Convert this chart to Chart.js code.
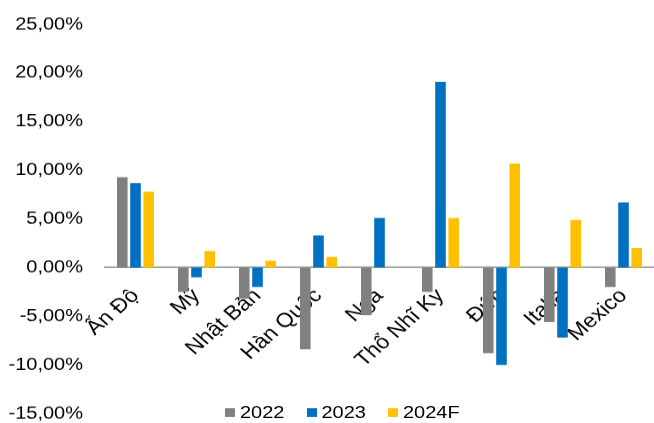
<!DOCTYPE html>
<html>
<head>
<meta charset="utf-8">
<script src="https://cdn.jsdelivr.net/npm/chart.js@4/dist/chart.umd.min.js"></script>
<style>
  html, body { margin: 0; background: #fff; overflow: hidden; }
  /* the chart is drawn 486px tall and pressed down to 423px, which gives the flat text */
  #wrap {
    position: relative; width: 654px; height: 486px;
    transform: scale(1, 0.8704); transform-origin: 0 0;
  }
  #legend {
    position: absolute; left: 225px; top: 462px; height: 23px;
    display: flex; align-items: center;
    font: 20px "Liberation Sans", Arial, sans-serif; color: #000;
  }
  .item { display: flex; align-items: center; margin-right: 22px; }
  .box { width: 10px; height: 10px; margin-right: 5px; }
</style>
</head>
<body>
<div id="wrap">
  <canvas id="chart" width="654" height="486"></canvas>
  <div id="legend"></div>
</div>
<script>
const countries = ["Ấn Độ", "Mỹ", "Nhật Bản", "Hàn Quốc", "Nga", "Thổ Nhĩ Kỳ", "Đức", "Italia", "Mexico"];
const growth2022 = [9.3, -2.5, -3.2, -8.4, -4.9, -2.5, -8.8, -5.6, -2.0];
const growth2023 = [8.7, -1.0, -2.0, 3.3, 5.1, 19.1, -10.0, -7.2, 6.7];
const growth2024F = [7.8, 1.7, 0.7, 1.1, 0, 5.1, 10.7, 4.9, 2.0];
const yTicks = [-15, -10, -5, 0, 5, 10, 15, 20, 25];

const fontFamily = '"Liberation Sans", Arial, sans-serif';

function pct(v) {
  return v.toFixed(2).replace('.', ',') + '%';
}

const chart = new Chart(document.getElementById('chart'), {
  type: 'bar',
  data: {
    labels: countries,
    datasets: [
      { label: '2022', data: growth2022, backgroundColor: '#808080' },
      { label: '2023', data: growth2023, backgroundColor: '#0070C0' },
      { label: '2024F', data: growth2024F, backgroundColor: '#FFC000' }
    ]
  },
  options: {
    responsive: false,
    animation: false,
    categoryPercentage: 0.65,
    barPercentage: 0.8,
    layout: { padding: { top: 28, bottom: 11, left: 0, right: -2 } },
    plugins: {
      legend: { display: false },
      tooltip: { enabled: false }
    },
    scales: {
      x: {
        position: { y: 0 },
        // the category axis sits on the zero line, so it takes no room of its own
        afterFit(scale) {
          scale.height = 0;
          scale.paddingLeft = 0;
          scale.paddingRight = 0;
        },
        grid: { display: false, drawTicks: false },
        border: { display: true, color: '#a6a6a6', width: 2 },
        ticks: {
          font: { family: fontFamily, size: 23 }, color: '#000', padding: 19,
          minRotation: 45, maxRotation: 45, autoSkip: false
        }
      },
      y: {
        min: yTicks[0],
        max: yTicks[yTicks.length - 1],
        afterFit(scale) {
          scale.width = 105;
          scale.paddingTop = 0;
          scale.paddingBottom = 0;
        },
        afterBuildTicks(scale) { scale.ticks = yTicks.map(v => ({ value: v })); },
        grid: { display: false, drawTicks: false },
        border: { display: false },
        ticks: {
          font: { family: fontFamily, size: 20 }, color: '#000', padding: 22,
          callback: v => pct(v)
        }
      }
    }
  }
});

// legend built from the chart's datasets
const legend = document.getElementById('legend');
chart.data.datasets.forEach(ds => {
  const item = document.createElement('div');
  item.className = 'item';
  const box = document.createElement('span');
  box.className = 'box';
  box.style.background = ds.backgroundColor;
  item.appendChild(box);
  item.appendChild(document.createTextNode(ds.label));
  legend.appendChild(item);
});
</script>
</body>
</html>
